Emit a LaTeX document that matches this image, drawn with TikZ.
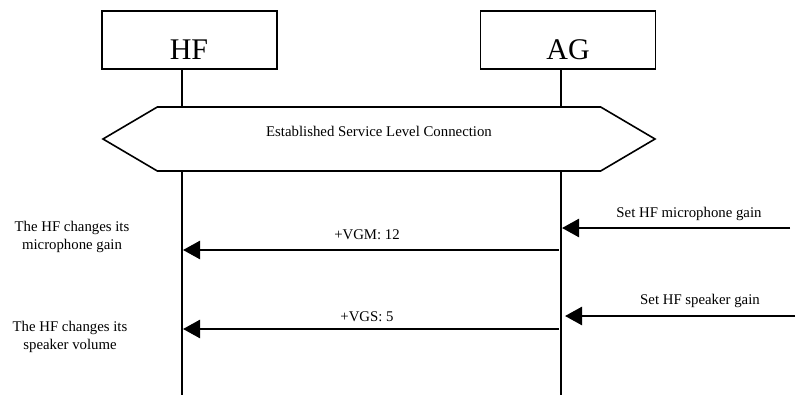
\documentclass[tikz,border=0pt]{standalone}
\usepackage{fontspec}
\setmainfont{Liberation Serif}
\usepackage{tikz}
\usetikzlibrary{arrows.meta,positioning,calc,shapes.symbols}

\begin{document}
\begin{tikzpicture}[x=1pt,y=1pt,
  lifebox/.style={draw, line width=1.2pt, minimum width=175pt, minimum height=58pt, inner sep=0pt},
  lifeline/.style={line width=2.8pt},
  msg/.style={line width=2.5pt, -{Triangle[length=17pt,width=18pt]}},
  txt/.style={font=\fontsize{14.8}{18.5}\selectfont, align=center}]
\useasboundingbox (0,0) rectangle (803,-401);

\node[lifebox,name=hf] at (189.5,-40) {};
\node[lifebox,name=ag] at (568,-40) {};
\node[font=\fontsize{30}{32}\selectfont,name=hftext] at (189,-50) {HF};
\node[font=\fontsize{30}{32}\selectfont,name=agtext] at (568,-50) {AG};

\coordinate (hftop) at (182,-69);  \coordinate (hfend) at (182,-395);
\coordinate (agtop) at (561,-69);  \coordinate (agend) at (561,-395);
\draw[lifeline] (hftop) -- (hfend);
\draw[lifeline] (agtop) -- (agend);

\node[signal, signal to=east and west, signal pointer angle=61, draw, line width=1.6pt, fill=white,
      minimum width=552pt, minimum height=64pt, txt, text height=10pt, text depth=15pt, name=slc] at (379,-139) {Established Service Level Connection};

% messages between HF and AG
\coordinate (agvgm) at (559,-250);  \coordinate (hfvgm) at (183,-250);
\coordinate (agvgs) at (559,-329);  \coordinate (hfvgs) at (183,-329);
\draw[msg] (agvgm) -- node[midway,above,txt,yshift=6pt,xshift=-4pt] {+VGM: 12} (hfvgm);
\draw[msg] (agvgs) -- node[midway,above,txt,yshift=3pt,xshift=-4pt] {+VGS: 5} (hfvgs);

% user actions at AG
\coordinate (micin) at (790,-228);  \coordinate (agmic) at (562,-228);
\coordinate (spkin) at (795,-316);  \coordinate (agspk) at (565,-316);
\draw[msg] (micin) -- node[midway,above,txt,yshift=3pt,xshift=13pt] {Set HF microphone gain} (agmic);
\draw[msg] (spkin) -- node[midway,above,txt,yshift=4pt,xshift=20pt] {Set HF speaker gain} (agspk);

\node[txt,name=hfmic] at (72,-237) {The HF changes its\\microphone gain};
\node[txt,name=hfspk] at (70,-337) {The HF changes its\\speaker volume};
\end{tikzpicture}
\end{document}
